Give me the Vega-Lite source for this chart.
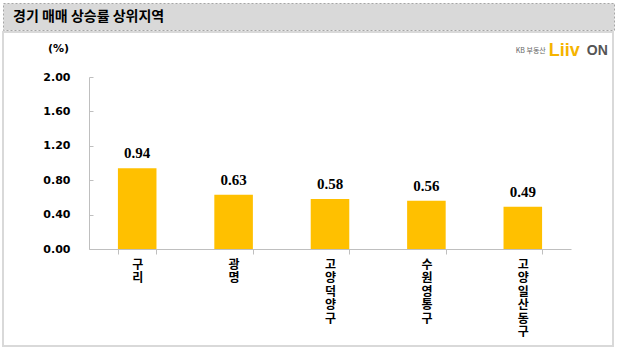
{
  "$schema": "https://vega.github.io/schema/vega-lite/v6.json",
  "padding": {"left": 2, "top": 2, "right": 0, "bottom": 0},
  "background": "white",
  "spacing": 0,
  "config": {"view": {"stroke": null}},
  "vconcat": [
    {
      "width": 611,
      "height": 27,
      "view": {"fill": "#d9d9d9", "stroke": "#a6a6a6", "strokeDash": [2, 2]},
      "data": {"values": [{"t": "경기 매매 상승률 상위지역"}]},
      "mark": {"type": "text", "align": "left", "baseline": "middle", "font": "Noto Sans CJK KR", "fontSize": 14, "fontWeight": "bold", "color": "#000000"},
      "encoding": {
        "x": {"datum": 0, "type": "quantitative", "scale": {"domain": [0, 1], "range": [10, 611]}, "axis": null},
        "text": {"field": "t", "type": "nominal"}
      }
    },
    {
      "width": 610,
      "height": 314,
      "view": {"fill": "white", "stroke": "#d9d9d9", "strokeWidth": 2},
      "layer": [
        {
          "data": {"values": [
            {"region": "구리", "rate": 0.94},
            {"region": "광명", "rate": 0.63},
            {"region": "고양덕양구", "rate": 0.58},
            {"region": "수원영통구", "rate": 0.56},
            {"region": "고양일산동구", "rate": 0.49}
          ]},
          "encoding": {
            "x": {
              "field": "region", "type": "nominal", "sort": null,
              "scale": {"range": [86, 568], "paddingInner": 0.6, "paddingOuter": 0.3},
              "axis": {
                "title": null, "offset": -97, "labelAngle": 0,
                "labelExpr": "split(datum.label, '')",
                "labelFont": "Noto Sans CJK KR", "labelFontWeight": "bold", "labelFontSize": 12,
                "labelLineHeight": 13.5, "labelBaseline": "top", "labelPadding": 5,
                "labelColor": "#000000", "labelOverlap": false, "labelLimit": 0,
                "tickBand": "extent", "tickSize": 5,
                "domainColor": "#bfbfbf", "tickColor": "#bfbfbf"
              }
            },
            "y": {
              "field": "rate", "type": "quantitative",
              "scale": {"domain": [0, 2], "range": [217, 45], "nice": false, "zero": true},
              "axis": {
                "values": [0, 0.4, 0.8, 1.2, 1.6, 2], "format": ".2f", "offset": -86,
                "grid": false, "tickSize": -4, "labelPadding": 23,
                "labelFont": "DejaVu Sans", "labelFontWeight": "bold", "labelFontSize": 11,
                "labelColor": "#000000",
                "domainColor": "#bfbfbf", "tickColor": "#bfbfbf",
                "title": "(%)", "titleAngle": 0, "titleX": -31, "titleY": 16,
                "titleAlign": "center", "titleBaseline": "middle",
                "titleFont": "DejaVu Sans", "titleFontWeight": "bold", "titleFontSize": 11,
                "titleColor": "#000000"
              }
            }
          },
          "layer": [
            {"mark": {"type": "bar", "color": "#ffc000"}},
            {
              "mark": {"type": "text", "font": "Liberation Serif", "fontWeight": "bold", "fontSize": 15, "baseline": "bottom", "dy": -7, "color": "#000000"},
              "encoding": {"text": {"field": "rate", "type": "quantitative", "format": ".2f"}}
            }
          ]
        },
        {
          "data": {"values": [{"t": "KB 부동산"}]},
          "mark": {"type": "text", "align": "left", "baseline": "middle", "dx": -7, "font": "Noto Sans CJK KR", "fontSize": 7, "color": "#666666"},
          "encoding": {
            "x": {"datum": "고양일산동구", "type": "nominal"},
            "y": {"datum": 2.3, "type": "quantitative"},
            "text": {"field": "t", "type": "nominal"}
          }
        },
        {
          "data": {"values": [{"t": "Liiv"}]},
          "mark": {"type": "text", "align": "left", "baseline": "middle", "dx": 26, "font": "Liberation Sans", "fontWeight": "bold", "fontSize": 18, "color": "#f5b400"},
          "encoding": {
            "x": {"datum": "고양일산동구", "type": "nominal"},
            "y": {"datum": 2.3, "type": "quantitative"},
            "text": {"field": "t", "type": "nominal"}
          }
        },
        {
          "data": {"values": [{"t": "ON"}]},
          "mark": {"type": "text", "align": "left", "baseline": "middle", "dx": 64, "font": "Liberation Sans", "fontWeight": "bold", "fontSize": 14, "color": "#555555"},
          "encoding": {
            "x": {"datum": "고양일산동구", "type": "nominal"},
            "y": {"datum": 2.3, "type": "quantitative"},
            "text": {"field": "t", "type": "nominal"}
          }
        }
      ]
    }
  ]
}
